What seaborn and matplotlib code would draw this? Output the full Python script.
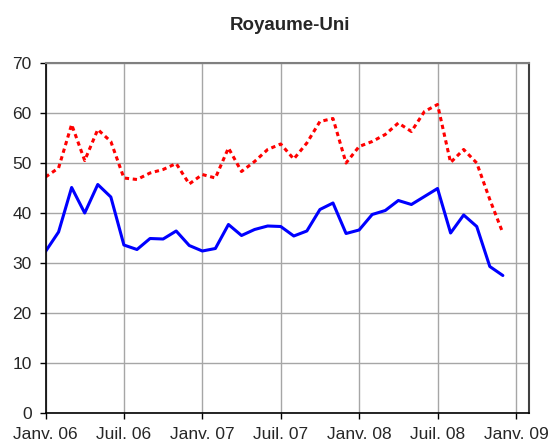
import numpy as np
import pandas as pd
import seaborn as sns
import matplotlib.pyplot as plt

# values, Jan 2006 .. Dec 2008 (monthly)
serie_bleue = [32.3, 36.2, 45.1, 40.0, 45.7, 43.2, 33.6, 32.7, 34.9, 34.8, 36.4, 33.5,
               32.4, 32.9, 37.7, 35.5, 36.7, 37.4, 37.3, 35.4, 36.4, 40.7, 42.0, 35.9,
               36.6, 39.7, 40.5, 42.5, 41.7, 43.3, 44.9, 36.0, 39.6, 37.3, 29.3, 27.5]
serie_rouge = [47.2, 49.0, 57.7, 50.5, 56.7, 54.3, 47.0, 46.7, 48.0, 48.7, 49.9, 45.8,
               47.7, 47.0, 53.0, 48.3, 50.3, 52.7, 53.8, 50.8, 54.0, 58.3, 58.9, 50.0,
               53.3, 54.3, 55.7, 58.0, 56.3, 60.3, 61.7, 50.1, 52.7, 50.0, 42.7, 36.0]
tick_labels = ['Janv. 06', 'Juil. 06', 'Janv. 07', 'Juil. 07', 'Janv. 08', 'Juil. 08', 'Janv. 09']
y_ticks = [0, 10, 20, 30, 40, 50, 60, 70]

mois = np.arange(len(serie_bleue))
df = pd.DataFrame({'mois': mois, 'bleue': serie_bleue, 'rouge': serie_rouge})

sns.set_style('white')
plt.rcParams['font.family'] = ['Liberation Sans', 'DejaVu Sans']

fig = plt.figure(figsize=(5.52, 4.48), dpi=100)
ax = fig.add_axes([45.5 / 552, 35 / 448, 483.5 / 552, 350 / 448])

sns.lineplot(data=df, x='mois', y='bleue', color='#0000FF', linewidth=2.2, ax=ax)
sns.lineplot(data=df, x='mois', y='rouge', color='#FF0000', linewidth=2.2,
             linestyle=(0, (1.4, 1.2)), ax=ax)

ax.set_xlim(0, 37)
ax.set_ylim(0, 70)
ax.set_xticks(range(0, 37, 6))
ax.set_xticklabels(tick_labels)
ax.set_yticks(y_ticks)
ax.set_xlabel('')
ax.set_ylabel('')

ax.grid(True, color='#a6a6a6', linewidth=1)
ax.set_axisbelow(True)
ax.tick_params(axis='both', direction='out', length=4, width=1, color='black',
               labelsize=12.5, pad=6, left=True, bottom=True)

for s in ['left', 'bottom']:
    ax.spines[s].set_color('black')
    ax.spines[s].set_linewidth(1.2)
ax.spines['top'].set_color('#808080')
ax.spines['right'].set_color('#404040')
ax.spines['top'].set_linewidth(1.5)
ax.spines['right'].set_linewidth(1.5)

fig.text(289.5 / 552, 1 - 30 / 448, 'Royaume-Uni', ha='center', va='baseline',
         fontsize=13.5, fontweight='bold')

plt.savefig('out.png', dpi=100)
